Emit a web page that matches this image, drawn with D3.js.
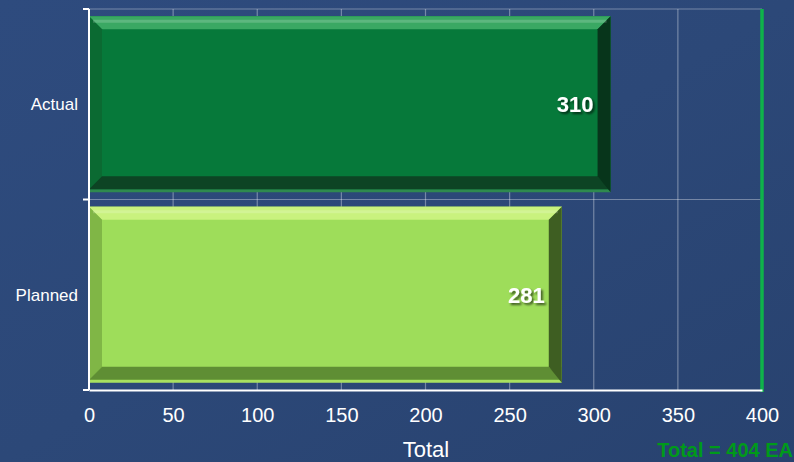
<!DOCTYPE html>
<html>
<head>
<meta charset="utf-8">
<script src="https://cdn.jsdelivr.net/npm/d3@7/dist/d3.min.js"></script>
<style>
html, body { margin: 0; padding: 0; background: #2b4676; }
svg { display: block; font-family: "Liberation Sans", Arial, sans-serif; }
</style>
</head>
<body>
<svg id="chart" width="794" height="462"></svg>
<script>
// data
var categories = ["Actual", "Planned"];
var values = [310, 281];
var xTicks = [0, 50, 100, 150, 200, 250, 300, 350, 400];
var totalLine = 400;
var totalText = "Total = 404 EA";

var faces = {
	Actual: { face: "#06793a", top: "#3aa863", left: "#0b6a32", bottom: "#0d4424", right: "#07351b", edge: "#2f8a4f" },
	Planned: { face: "#9edd5a", top: "#c9f27e", left: "#80b646", bottom: "#5f8e34", right: "#3e5e22", edge: "#a8e060" }
};

var svg = d3.select("#chart");
var W = 794, H = 462;
var plotLeft = 89, plotRight = 762, plotTop = 9, plotBottom = 390;

// background
var defs = svg.append("defs");
var bg = defs.append("linearGradient").attr("id", "bg")
	.attr("x1", "0").attr("y1", "0").attr("x2", "1").attr("y2", "1");
bg.append("stop").attr("offset", "0").attr("stop-color", "#2e4b7e");
bg.append("stop").attr("offset", "0.5").attr("stop-color", "#2c4878");
bg.append("stop").attr("offset", "1").attr("stop-color", "#28426f");
svg.append("rect").attr("width", W).attr("height", H).attr("fill", "url(#bg)");

var shadow = defs.append("filter").attr("id", "txtshadow")
	.attr("x", "-20%").attr("y", "-20%").attr("width", "150%").attr("height", "150%");
shadow.append("feDropShadow").attr("dx", 2).attr("dy", 2).attr("stdDeviation", 0.8)
	.attr("flood-color", "#000").attr("flood-opacity", 0.6);

var x = d3.scaleLinear().domain([0, 400]).range([plotLeft, plotRight]);
var y = d3.scaleBand().domain(categories).range([plotTop, plotBottom]).padding(0);

// grid
var grid = svg.append("g");
grid.selectAll(".vgrid").data(xTicks.slice(1)).enter().append("line")
	.attr("x1", function(d) { return x(d); }).attr("x2", function(d) { return x(d); })
	.attr("y1", plotTop).attr("y2", plotBottom)
	.attr("stroke", "rgba(255,255,255,0.35)").attr("stroke-width", 1.2);
grid.selectAll(".hgrid").data(categories).enter().append("line")
	.attr("x1", plotLeft).attr("x2", plotRight)
	.attr("y1", function(d) { return y(d); }).attr("y2", function(d) { return y(d); })
	.attr("stroke", "rgba(255,255,255,0.35)").attr("stroke-width", 1.2);

// bars with bevel
function bevelBar(g, x0, y0, w, h, c) {
	var b = 13;
	g.append("rect").attr("x", x0).attr("y", y0).attr("width", w).attr("height", h).attr("fill", c.edge);
	g.append("rect").attr("x", x0).attr("y", y0).attr("width", w).attr("height", h - 3).attr("fill", c.face);
	h = h - 3;
	var pts = function(a) { return a.map(function(p) { return p.join(","); }).join(" "); };
	g.append("polygon").attr("fill", c.top)
		.attr("points", pts([[x0, y0], [x0 + w, y0], [x0 + w - b, y0 + b], [x0 + b, y0 + b]]));
	g.append("polygon").attr("fill", c.left)
		.attr("points", pts([[x0, y0], [x0 + b, y0 + b], [x0 + b, y0 + h - b], [x0, y0 + h]]));
	g.append("polygon").attr("fill", c.bottom)
		.attr("points", pts([[x0, y0 + h], [x0 + b, y0 + h - b], [x0 + w - b, y0 + h - b], [x0 + w, y0 + h]]));
	g.append("polygon").attr("fill", c.right)
		.attr("points", pts([[x0 + w, y0], [x0 + w, y0 + h + 3], [x0 + w - b, y0 + h - b], [x0 + w - b, y0 + b]]));
	// soft highlight line in top bevel
	g.append("line").attr("x1", x0 + 4).attr("x2", x0 + w - 4).attr("y1", y0 + 5).attr("y2", y0 + 5)
		.attr("stroke", "rgba(255,255,255,0.18)").attr("stroke-width", 3);
}

var bars = svg.append("g");
categories.forEach(function(cat, i) {
	var bh = y.bandwidth() * 0.924;
	var by = y(cat) + (y.bandwidth() - bh) / 2;
	bevelBar(bars, x(0), by, x(values[i]) - x(0), bh, faces[cat]);
	bars.append("text")
		.attr("x", x(values[i]) - 17).attr("y", by + bh / 2 + 8)
		.attr("text-anchor", "end").attr("fill", "#fff")
		.attr("font-size", 22).attr("font-weight", "bold")
		.attr("filter", "url(#txtshadow)")
		.text(values[i]);
});

// total line
svg.append("line").attr("x1", x(totalLine)).attr("x2", x(totalLine))
	.attr("y1", plotTop).attr("y2", plotBottom + 2)
	.attr("stroke", "#0fb34a").attr("stroke-width", 3.5);

// axes
var xAxis = svg.append("g").attr("transform", "translate(0," + plotBottom + ")")
	.call(d3.axisBottom(x).tickValues(xTicks).tickSize(0).tickPadding(18));
xAxis.select(".domain").attr("stroke", "#fff").attr("stroke-width", 2);
xAxis.selectAll("text").attr("fill", "#fff").attr("font-size", 20)
	.attr("font-family", "Liberation Sans, Arial, sans-serif");

var yAxis = svg.append("g");
yAxis.append("line").attr("x1", plotLeft).attr("x2", plotLeft).attr("y1", plotTop).attr("y2", plotBottom)
	.attr("stroke", "#fff").attr("stroke-width", 2);
yAxis.selectAll(".ytick").data(categories.concat(["end"])).enter().append("line")
	.attr("x1", plotLeft - 6).attr("x2", plotLeft)
	.attr("y1", function(d, i) { return i < categories.length ? y(d) : plotBottom; })
	.attr("y2", function(d, i) { return i < categories.length ? y(d) : plotBottom; })
	.attr("stroke", "#fff").attr("stroke-width", 2);
yAxis.selectAll(".ylab").data(categories).enter().append("text")
	.attr("x", 78).attr("y", function(d) { return y(d) + y.bandwidth() / 2 + 6; })
	.attr("text-anchor", "end").attr("fill", "#fff").attr("font-size", 17)
	.text(function(d) { return d; });

// titles
svg.append("text").attr("x", 426).attr("y", 457).attr("text-anchor", "middle")
	.attr("fill", "#fff").attr("font-size", 22).text("Total");
svg.append("text").attr("x", 793).attr("y", 457).attr("text-anchor", "end")
	.attr("fill", "#009a1a").attr("font-size", 20).attr("font-weight", "bold").text(totalText);
</script>
</body>
</html>
